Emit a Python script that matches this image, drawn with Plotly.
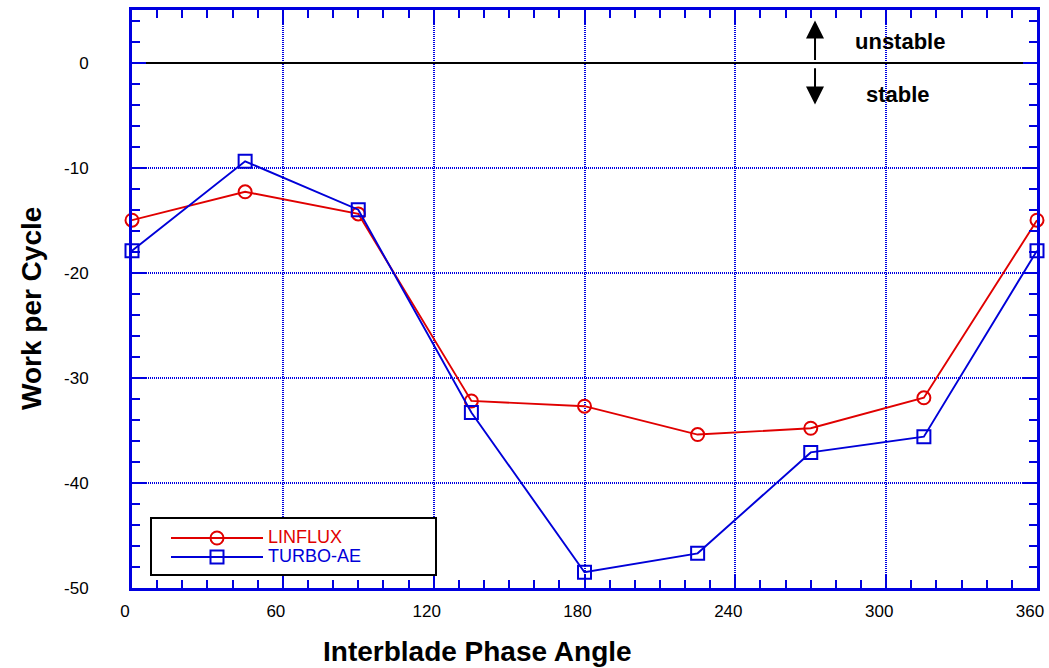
import plotly.graph_objects as go

angles = [0, 45, 90, 135, 180, 225, 270, 315, 360]
linflux = [-15.0, -12.3, -14.4, -32.2, -32.7, -35.4, -34.8, -31.9, -15.0]
turbo_ae = [-17.9, -9.4, -14.0, -33.3, -48.5, -46.7, -37.1, -35.6, -17.9]

x_ticks = [0, 60, 120, 180, 240, 300, 360]
y_ticks = [0, -10, -20, -30, -40, -50]

RED = "#e00000"
BLUE = "#0000d8"
AXB = "#0000e0"
FONT = "Liberation Sans, Arial"

fig = go.Figure()
fig.add_trace(go.Scatter(
    x=angles, y=linflux, mode="lines+markers",
    name="<span style='color:%s;font-size:18px'>LINFLUX</span>" % RED,
    line=dict(color=RED, width=1.9),
    marker=dict(symbol="circle-open", size=13, color=RED, line=dict(width=2)),
    cliponaxis=False,
))
fig.add_trace(go.Scatter(
    x=angles, y=turbo_ae, mode="lines+markers",
    name="<span style='color:%s;font-size:18px'>TURBO-AE</span>" % BLUE,
    line=dict(color=BLUE, width=1.9),
    marker=dict(symbol="square-open", size=13, color=BLUE, line=dict(width=2)),
    cliponaxis=False,
))

axis_common = dict(
    showline=True, linecolor=AXB, linewidth=3, mirror="allticks",
    ticks="inside", ticklen=14, tickwidth=2, tickcolor=AXB,
    showgrid=True, gridcolor=AXB, gridwidth=2, griddash="1px,1px",
    tickfont=dict(family=FONT, size=17, color="black"),
    automargin=False,
)

fig.update_xaxes(
    range=[0, 360], tickvals=x_ticks, ticktext=[str(v) for v in x_ticks],
    zeroline=False,
    minor=dict(dtick=10, ticks="inside", ticklen=8, tickwidth=2, tickcolor=AXB, showgrid=False),
    ticklabelstandoff=6, ticklabelshift=-7,
    **axis_common,
)
fig.update_yaxes(
    range=[-50, 5], tickvals=y_ticks, ticktext=[str(v) for v in y_ticks],
    zeroline=True, zerolinecolor="black", zerolinewidth=2,
    minor=dict(dtick=2, ticks="inside", ticklen=8, tickwidth=2, tickcolor=AXB, showgrid=False),
    ticklabelstandoff=37,
    **axis_common,
)

PW, PH, PL, PB = 905, 578, 132, 588

# legend frame
fig.add_shape(type="rect", xref="paper", yref="paper",
              x0=(151 - PL) / PW, x1=(436 - PL) / PW,
              y0=(PB - 575) / PH, y1=(PB - 518) / PH,
              line=dict(color="black", width=2), fillcolor="white", layer="above")

fig.update_layout(
    width=1049, height=668,
    margin=dict(l=132, r=12, t=10, b=80),
    paper_bgcolor="white", plot_bgcolor="white",
    showlegend=True,
    legend=dict(x=(166 - PL) / PW, y=(PB - 523.5) / PH, xanchor="left", yanchor="top",
                bgcolor="rgba(0,0,0,0)", borderwidth=0, itemwidth=92,
                font=dict(family=FONT, size=12), tracegroupgap=0),
    font=dict(family=FONT),
)

# axis titles
fig.add_annotation(x=(477 - PL) / PW, y=(PB - 651) / PH, xref="paper", yref="paper",
                   xanchor="center", yanchor="middle",
                   text="<b>Interblade Phase Angle</b>",
                   showarrow=False, font=dict(family=FONT, size=28, color="black"))
fig.add_annotation(x=(31 - PL) / PW, y=(PB - 309) / PH, xref="paper", yref="paper",
                   xanchor="center", yanchor="middle",
                   text="<b>Work per Cycle</b>",
                   showarrow=False, textangle=-90, font=dict(family=FONT, size=28, color="black"))

# stability arrows and labels
fig.add_annotation(x=271.7, y=4.0, ax=271.7, ay=0.1, xref="x", yref="y", axref="x", ayref="y",
                   text="", showarrow=True, arrowhead=2, arrowsize=1.8, arrowwidth=2, arrowcolor="black")
fig.add_annotation(x=271.7, y=-4.0, ax=271.7, ay=-0.4, xref="x", yref="y", axref="x", ayref="y",
                   text="", showarrow=True, arrowhead=2, arrowsize=1.8, arrowwidth=2, arrowcolor="black")
fig.add_annotation(x=305.5, y=2.0, xref="x", yref="y", text="<b>unstable</b>", showarrow=False,
                   font=dict(family=FONT, size=22, color="black"))
fig.add_annotation(x=304.7, y=-3.0, xref="x", yref="y", text="<b>stable</b>", showarrow=False,
                   font=dict(family=FONT, size=22, color="black"))

fig.write_html("out.html")
